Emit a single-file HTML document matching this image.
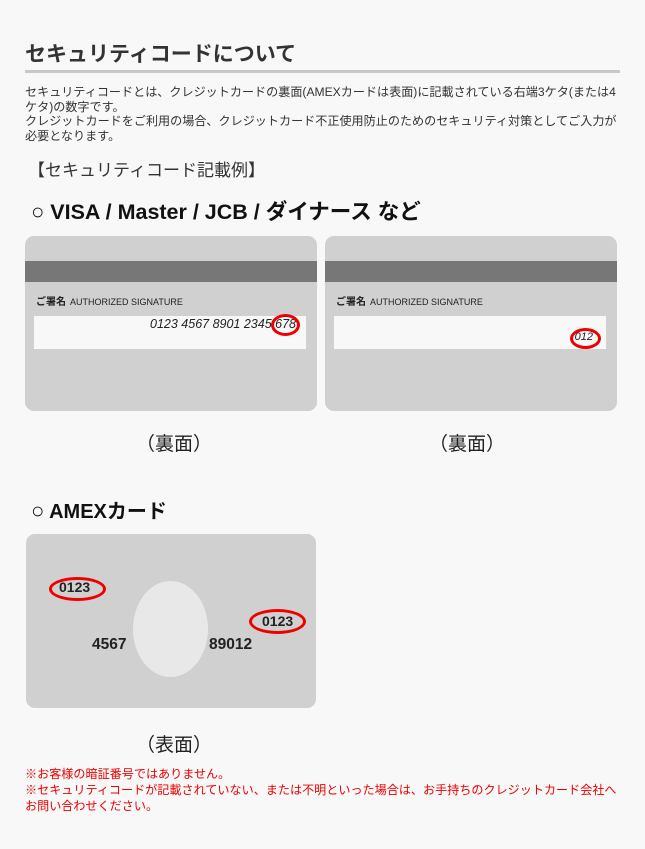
<!DOCTYPE html>
<html><head><meta charset="utf-8"><style>
body{margin:0;background:#f8f8f8;font-family:"Liberation Sans","Noto Sans CJK JP",sans-serif;color:#222;}
.a{position:absolute;white-space:nowrap;}
.card{position:absolute;background:#d0d0d0;border-radius:9px;overflow:hidden;}
.stripe{position:absolute;left:0;right:0;top:25px;height:21px;background:#777;}
.sig{position:absolute;left:11px;top:57px;font-size:10px;font-weight:bold;}
.sig span{font-weight:normal;font-size:9px;margin-left:4px;}
.box{position:absolute;left:9px;top:80px;width:272px;height:33px;background:#f8f8f8;}
.num{position:absolute;font-style:italic;font-size:12.5px;}
.ring{position:absolute;border:3px solid #e00;border-radius:50%;box-sizing:border-box;}
</style></head><body>
<div class="a" style="left:25px;top:38px;font-size:21px;font-weight:bold;color:#333;">セキュリティコードについて</div>
<div class="a" style="left:25px;top:70px;width:595px;height:3px;background:#c8c8c8;"></div>
<div class="a" style="left:25px;top:85px;font-size:12.1px;line-height:14.5px;color:#333;">セキュリティコードとは、クレジットカードの裏面(AMEXカードは表面)に記載されている右端3ケタ(または4<br>ケタ)の数字です。<br>クレジットカードをご利用の場合、クレジットカード不正使用防止のためのセキュリティ対策としてご入力が<br>必要となります。</div>
<div class="a" style="left:28px;top:156px;font-size:17px;color:#333;">【セキュリティコード記載例】</div>
<div class="a" style="left:31px;top:195px;font-size:21.5px;font-weight:bold;color:#111;"><span style="font-size:22px;font-weight:normal">○</span> VISA / Master / JCB / ダイナース など</div>

<div class="card" style="left:25px;top:236px;width:292px;height:175px;">
<div class="stripe"></div>
<div class="sig">ご署名<span>AUTHORIZED SIGNATURE</span></div>
<div class="box"></div>
<div class="num" style="right:21px;top:81px;">0123 4567 8901 2345 678</div>
<div class="ring" style="left:246px;top:78px;width:29px;height:22px;"></div>
</div>
<div class="card" style="left:325px;top:236px;width:292px;height:175px;">
<div class="stripe"></div>
<div class="sig">ご署名<span>AUTHORIZED SIGNATURE</span></div>
<div class="box"></div>
<div class="num" style="right:24px;top:95px;font-size:11px;">012</div>
<div class="ring" style="left:245px;top:92px;width:31px;height:21px;"></div>
</div>
<div class="a" style="left:136px;top:429px;font-size:19px;">（裏面）</div>
<div class="a" style="left:429px;top:429px;font-size:19px;">（裏面）</div>

<div class="a" style="left:31px;top:495px;font-size:20px;font-weight:bold;color:#111;"><span style="font-size:22px;font-weight:normal">○</span> AMEXカード</div>
<div class="card" style="left:26px;top:534px;width:290px;height:174px;">
<div style="position:absolute;left:107px;top:47px;width:75px;height:96px;border-radius:50%;background:#e8e8e8;"></div>
<div class="a" style="left:33px;top:45px;font-size:14px;font-weight:bold;">0123</div>
<div class="ring" style="left:23px;top:43px;width:57px;height:24px;"></div>
<div class="a" style="left:236px;top:79px;font-size:14px;font-weight:bold;">0123</div>
<div class="ring" style="left:223px;top:75px;width:57px;height:25px;"></div>
<div class="a" style="left:66px;top:102px;font-size:15.5px;font-weight:bold;">4567</div>
<div class="a" style="left:183px;top:102px;font-size:15.5px;font-weight:bold;">89012</div>
</div>
<div class="a" style="left:136px;top:730px;font-size:19px;">（表面）</div>
<div class="a" style="left:25px;top:766px;font-size:12.1px;line-height:16px;color:#e00;">※お客様の暗証番号ではありません。<br>※セキュリティコードが記載されていない、または不明といった場合は、お手持ちのクレジットカード会社へ<br>お問い合わせください。</div>
</body></html>
